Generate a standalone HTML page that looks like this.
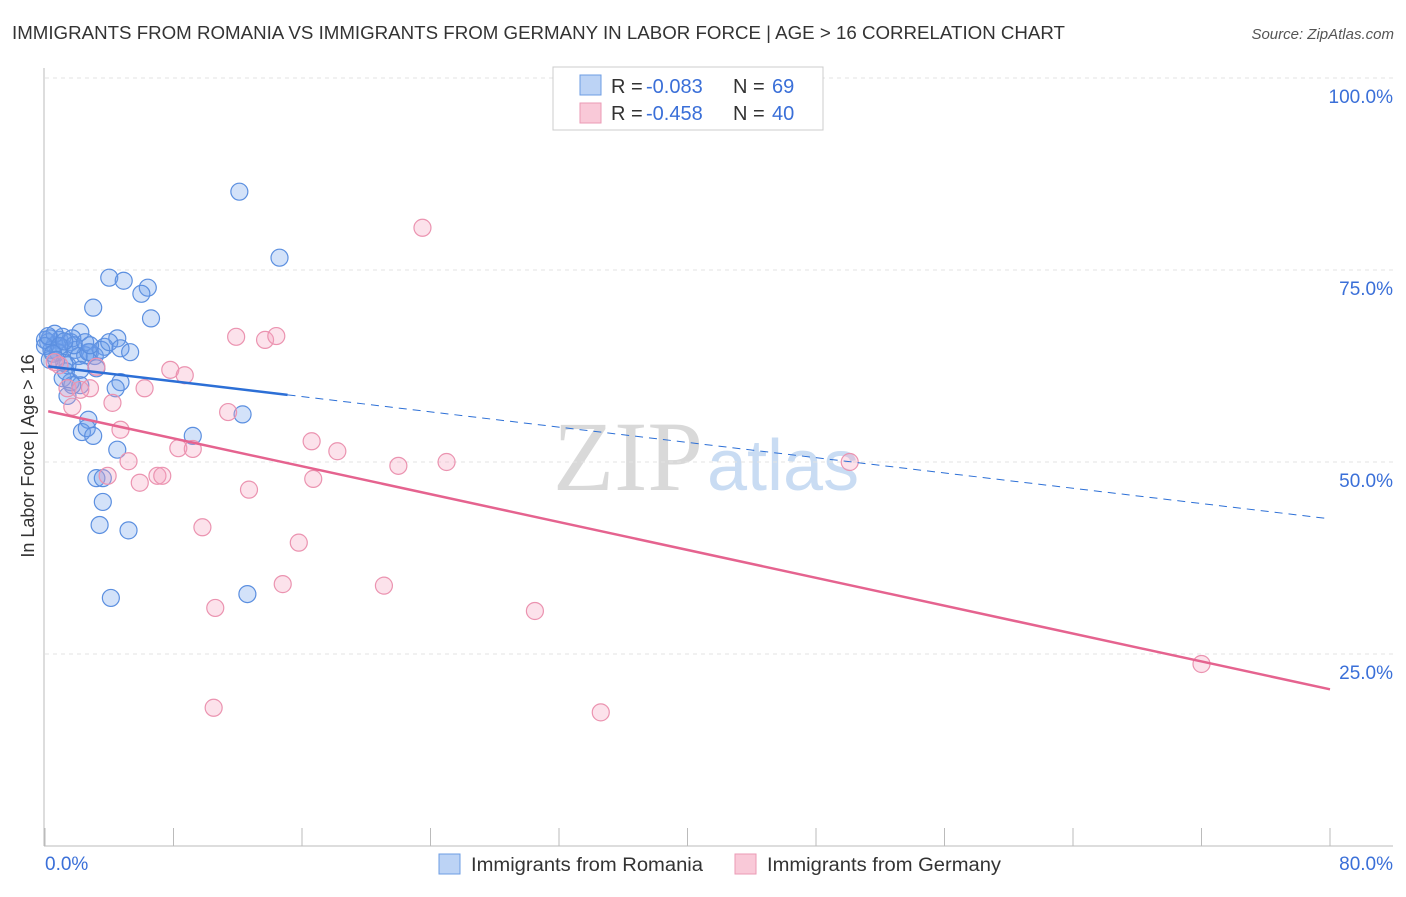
<!DOCTYPE html>
<html><head><meta charset="utf-8"><style>
body{margin:0;background:#fff;font-family:"Liberation Sans",sans-serif;}
svg text{font-family:"Liberation Sans",sans-serif;}
</style></head><body>
<svg id="chart" width="1406" height="892" xmlns="http://www.w3.org/2000/svg">
<text x="12" y="39" font-size="18" fill="#333" textLength="1053" lengthAdjust="spacingAndGlyphs">IMMIGRANTS FROM ROMANIA VS IMMIGRANTS FROM GERMANY IN LABOR FORCE | AGE &gt; 16 CORRELATION CHART</text>
<text x="1394" y="39" font-size="15" fill="#555" text-anchor="end" font-style="italic">Source: ZipAtlas.com</text>
<text x="553" y="490" font-size="100" fill="#ddd" font-family="Liberation Serif"><tspan fill="#d9d9d9" font-family="Liberation Serif">ZIP</tspan><tspan fill="#c9dcf3" font-family="Liberation Sans" font-size="72" dx="4">atlas</tspan></text>
<g id="grid"></g><g id="axes"></g><g id="marks"></g>
<text transform="translate(34,456) rotate(-90)" font-size="18" fill="#333" text-anchor="middle">In Labor Force | Age &gt; 16</text>
<text x="45" y="870" font-size="19" fill="#3a6fd8">0.0%</text>
<text x="1393" y="870" font-size="19" fill="#3a6fd8" text-anchor="end">80.0%</text>
<g>
<rect x="553" y="67" width="270" height="63" fill="#fff" stroke="#ccc"/>
<rect x="580" y="75" width="21" height="20" fill="#bcd3f5" stroke="#6d9de3"/>
<rect x="580" y="103" width="21" height="20" fill="#f9c9d8" stroke="#eb9ab5"/>
<text x="611" y="93" font-size="20" fill="#333">R =</text>
<text x="646" y="93" font-size="20" fill="#3a6fd8">-0.083</text>
<text x="733" y="93" font-size="20" fill="#333">N =</text>
<text x="772" y="93" font-size="20" fill="#3a6fd8">69</text>
<text x="611" y="120" font-size="20" fill="#333">R =</text>
<text x="646" y="120" font-size="20" fill="#3a6fd8">-0.458</text>
<text x="733" y="120" font-size="20" fill="#333">N =</text>
<text x="772" y="120" font-size="20" fill="#3a6fd8">40</text>
</g>
<g>
<rect x="439" y="854" width="21" height="20" fill="#bcd3f5" stroke="#6d9de3"/>
<text x="471" y="871" font-size="19" fill="#333" textLength="232" lengthAdjust="spacingAndGlyphs">Immigrants from Romania</text>
<rect x="735" y="854" width="21" height="20" fill="#f9c9d8" stroke="#eb9ab5"/>
<text x="767" y="871" font-size="19" fill="#333" textLength="234" lengthAdjust="spacingAndGlyphs">Immigrants from Germany</text>
</g>
</svg>
<script>
const yTicks=[100,75,50,25];
const yTickLabels=["100.0%","75.0%","50.0%","25.0%"];
const romaniaX=[12.1,14.6,4.0,4.9,6.4,6.0,3.0,6.6,0.3,0.9,2.2,4.5,1.6,0.6,1.2,1.9,2.8,3.7,2.5,0.2,0.4,1.1,1.7,0.0,0.8,2.1,3.1,1.4,1.1,1.6,2.2,4.7,4.4,1.7,1.4,3.2,2.7,2.3,2.6,3.0,4.5,12.3,9.2,3.2,3.6,3.6,3.4,5.2,4.1,12.6,1.2,0.6,0.3,1.3,1.8,2.5,2.7,0.0,0.2,0.9,0.5,1.2,3.5,2.2,2.8,4.0,4.7,5.3,0.7];
const romaniaY=[85.2,76.6,74.0,73.6,72.7,71.9,70.1,68.7,66.1,65.9,66.9,66.1,65.6,65.2,64.8,64.6,64.3,65.0,63.9,65.6,64.6,66.3,66.1,65.9,64.3,63.8,63.8,62.6,60.9,60.4,60.0,60.4,59.6,60.0,58.6,62.2,55.5,53.9,54.4,53.4,51.6,56.2,53.4,47.9,47.9,44.8,41.8,41.1,32.3,32.8,62.9,66.7,63.3,61.8,65.2,65.6,64.3,65.1,66.4,65.1,64.1,65.7,64.6,62.0,65.2,65.6,64.8,64.3,63.3];
const germanyX=[23.5,11.9,13.7,14.4,7.8,8.7,3.2,6.2,4.2,11.4,1.7,1.4,2.8,4.7,16.6,18.2,8.3,9.2,5.2,7.0,7.3,5.9,3.9,16.7,22.0,25.0,50.1,12.7,9.8,15.8,14.8,21.1,10.6,30.5,10.5,34.6,72.0,0.6,0.9,2.2];
const germanyY=[80.5,66.3,65.9,66.4,62.0,61.3,62.4,59.6,57.7,56.5,57.2,59.6,59.6,54.2,52.7,51.4,51.8,51.7,50.1,48.2,48.2,47.3,48.2,47.8,49.5,50.0,50.0,46.4,41.5,39.5,34.1,33.9,31.0,30.6,18.0,17.4,23.7,63.0,62.6,59.4];
const romaniaTrend=[62.5,42.6];
const germanyTrend=[56.7,20.4];
const NS="http://www.w3.org/2000/svg";
const xs=v=>45+v/80*1285;
const ys=v=>846-v/100*768;
function mk(parent,tag,attrs){const e=document.createElementNS(NS,tag);for(const k in attrs)e.setAttribute(k,attrs[k]);document.getElementById(parent).appendChild(e);return e;}
yTicks.forEach((t,i)=>{
 const g=mk('grid','line',{x1:45,x2:1393,y1:ys(t),y2:ys(t),stroke:'#e3e3e3','stroke-dasharray':'4 4'});
 
 
 const l=mk('grid','text',{x:1393,y:ys(t)+25,'font-size':19,fill:'#3a6fd8','text-anchor':'end'});
 l.textContent=yTickLabels[i];
 
 
});
const ax=mk('axes','line',{x1:44,x2:44,y1:68,y2:846,stroke:'#bbb'});


const bx=mk('axes','line',{x1:44,x2:1393,y1:846,y2:846,stroke:'#bbb'});


for(let k=0;k<=10;k++){const t=mk('axes','line',{x1:xs(k*8),x2:xs(k*8),y1:828,y2:846,stroke:'#bbb'});
 
 }
function pts(X,Y,fill,stroke,name){X.forEach((x,i)=>{const c=mk('marks','circle',{cx:xs(x),cy:ys(Y[i]),r:8.5,fill:fill,stroke:stroke,'stroke-width':1.2});
 
 });}
pts(romaniaX,romaniaY,'rgba(110,160,235,0.3)','#5b8fe0','romania-point');
pts(germanyX,germanyY,'rgba(245,160,190,0.3)','#eb93b0','germany-point');
const rt=x=>romaniaTrend[0]+(romaniaTrend[1]-romaniaTrend[0])*x/80;
const gt=x=>germanyTrend[0]+(germanyTrend[1]-germanyTrend[0])*x/80;
let l1=mk('marks','line',{x1:xs(0.2),y1:ys(rt(0.2)),x2:xs(15.1),y2:ys(rt(15.1)),stroke:'#2c6fd6','stroke-width':2.5});


let l2=mk('marks','line',{x1:xs(15.1),y1:ys(rt(15.1)),x2:xs(80),y2:ys(rt(80)),stroke:'#2c6fd6','stroke-width':1,'stroke-dasharray':'8 6'});


let l3=mk('marks','line',{x1:xs(0.2),y1:ys(gt(0.2)),x2:xs(80),y2:ys(gt(80)),stroke:'#e5638f','stroke-width':2.5});


</script>
</body></html>
